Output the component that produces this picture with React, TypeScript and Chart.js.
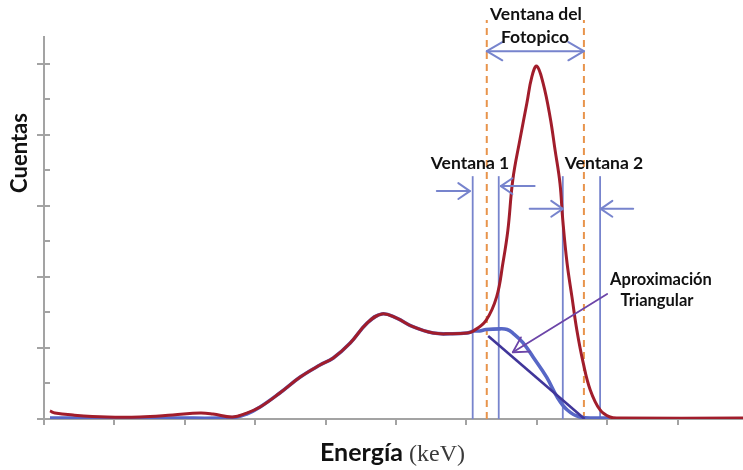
import React, { useEffect, useRef } from 'react';
import { Chart, registerables } from 'chart.js';

Chart.register(...registerables);

// ---- Data (energy in arbitrary units: 10 per axis tick; counts: 100 per major tick) ----
const redEnergy = [0.85, 1.56, 4.12, 8.95, 13.6, 18.3, 22.2, 24.0, 26.8, 28.8, 30.7, 33.5, 36.4, 39.2, 41.1, 43.5, 45.9, 48.0, 50.1, 52.4, 55.3, 57.7, 60.1, 61.0, 62.8, 64.3, 65.2, 65.9, 66.6, 67.6, 68.6, 69.3, 70.0, 70.9, 71.9, 72.6, 73.3, 73.7, 74.3, 75.0, 75.7, 76.6, 77.6, 79.0, 80.4, 81.8, 99.3];
const redCounts = [11.3, 8.4, 5.6, 2.8, 2.8, 5.6, 8.4, 7.0, 2.8, 8.4, 16.9, 36.6, 59.1, 76.0, 85.9, 107, 135, 148, 142, 130, 121, 120, 121, 124, 139, 172, 220, 266, 337, 393, 445, 482, 497, 473, 425, 379, 332, 280, 220, 172, 125, 79, 41, 12.7, 2.8, 1.4, 1.4];

const blueEnergy = [0.85, 8.95, 18.3, 26.8, 28.8, 30.7, 33.5, 36.4, 39.2, 41.1, 43.5, 45.9, 48.0, 50.1, 52.4, 55.3, 57.7, 60.1, 61.0, 61.9, 62.8, 64.8, 65.8, 66.6, 68.0, 69.5, 71.4, 72.9, 74.3, 76.1, 79.0, 80.4];
const blueCounts = [1.4, 1.4, 1.4, 2.0, 7.0, 16.9, 36.6, 59.1, 76.0, 85.9, 107, 135, 148, 142, 130, 121, 120, 121, 124, 124, 126, 127, 126, 121, 108, 87, 59, 31, 13, 2.8, 1.4, 1.4];

const triangleEnergy = [63.1, 76.8];
const triangleCounts = [117, 0];

const window1Edges = [60.9, 64.6];
const window2Edges = [73.7, 79.0];
const windowTop = 342;
const photopeakEdges = [62.9, 76.7];
const photopeakTop = 562;

// arrows: [x1, y1, x2, y2] in data units, head at (x2, y2)
const photopeakArrow = [62.9, 518, 76.7, 518];
const windowArrows = [
  [55.8, 321, 60.5, 321],
  [69.7, 328, 64.9, 328],
  [69.0, 296, 73.7, 296],
  [83.7, 296, 79.1, 296],
];
const triangleNoteArrow = [80.0, 176, 66.6, 94];

const xMax = 99.3;
const yMax = 538;
const xStep = 10;
const yStep = 100;
const yMinorStep = 50;

const AXIS = '#a3a3a3';
const RED = '#a11d2b';
const BLUE = '#5767c6';
const VLINE = '#7784cd';
const ORANGE = '#e8944c';
const TRI = '#40369a';
const NOTE = '#6c45a8';

function pts(xs: number[], ys: number[]) {
  return xs.map((x, i) => ({ x, y: ys[i] }));
}
function vline(x: number, top: number) {
  return [{ x, y: 0 }, { x, y: top }];
}

function drawArrow(ctx: CanvasRenderingContext2D, x1: number, y1: number, x2: number, y2: number, both: boolean, len: number, ang: number, color: string, width: number) {
  ctx.save();
  ctx.strokeStyle = color;
  ctx.lineWidth = width;
  ctx.lineCap = 'round';
  ctx.lineJoin = 'round';
  ctx.beginPath();
  ctx.moveTo(x1, y1);
  ctx.lineTo(x2, y2);
  ctx.stroke();
  const head = (tx: number, ty: number, fx: number, fy: number) => {
    const a = Math.atan2(fy - ty, fx - tx);
    ctx.beginPath();
    ctx.moveTo(tx + len * Math.cos(a + ang), ty + len * Math.sin(a + ang));
    ctx.lineTo(tx, ty);
    ctx.lineTo(tx + len * Math.cos(a - ang), ty + len * Math.sin(a - ang));
    ctx.stroke();
  };
  head(x2, y2, x1, y1);
  if (both) head(x1, y1, x2, y2);
  ctx.restore();
}

const annotationPlugin = {
  id: 'annotations',
  afterDatasetsDraw(chart: any) {
    const ctx: CanvasRenderingContext2D = chart.ctx;
    const xs = chart.scales.x;
    const ys = chart.scales.y;
    const area = chart.chartArea;
    ctx.save();
    ctx.strokeStyle = AXIS;
    ctx.lineWidth = 2;
    for (let v = 0; v <= yMax; v += yMinorStep) {
      const py = Math.round(ys.getPixelForValue(v));
      ctx.beginPath();
      ctx.moveTo(area.left, py);
      ctx.lineTo(area.left + 6, py);
      ctx.stroke();
    }
    ctx.restore();

    const P = (a: number[]) => [xs.getPixelForValue(a[0]), ys.getPixelForValue(a[1]), xs.getPixelForValue(a[2]), ys.getPixelForValue(a[3])];
    const pa = P(photopeakArrow);
    drawArrow(ctx, pa[0], pa[1], pa[2], pa[3], true, 18, 0.53, VLINE, 2);
    windowArrows.forEach((a) => {
      const p = P(a);
      drawArrow(ctx, p[0], p[1], p[2], p[3], false, 14, 0.6, VLINE, 2);
    });
    const na = P(triangleNoteArrow);
    drawArrow(ctx, na[0], na[1], na[2], na[3], false, 17, 0.52, NOTE, 1.8);
  },
  afterDraw(chart: any) {
    const ctx: CanvasRenderingContext2D = chart.ctx;
    ctx.save();
    ctx.fillStyle = '#111';
    ctx.textAlign = 'center';
    ctx.textBaseline = 'middle';
    ctx.font = '700 17.5px Lato';
    ctx.fillText('Ventana del', 536, 14);
    ctx.fillText('Fotopico', 535, 37);
    ctx.fillText('Ventana 1', 470, 163);
    ctx.fillText('Ventana 2', 604, 163);
    ctx.font = '700 16.5px Lato';
    ctx.fillText('Aproximación', 661, 280);
    ctx.fillText('Triangular', 657, 301);

    ctx.save();
    ctx.translate(20, 153);
    ctx.rotate(-Math.PI / 2);
    ctx.font = '700 22px Lato';
    ctx.fillText('Cuentas', 0, 0);
    ctx.restore();

    ctx.textAlign = 'left';
    ctx.textBaseline = 'alphabetic';
    ctx.font = '700 25px Lato';
    const t1 = 'Energía';
    const w1 = ctx.measureText(t1).width;
    ctx.font = '24px "Liberation Serif"';
    const t2 = '(keV)';
    const w2 = ctx.measureText(t2).width;
    const gap = 6;
    const start = 392.5 - (w1 + gap + w2) / 2;
    ctx.font = '700 25px Lato';
    ctx.fillStyle = '#111';
    ctx.fillText(t1, start, 461);
    ctx.font = '24px "Liberation Serif"';
    ctx.fillStyle = '#3a3a3a';
    ctx.fillText(t2, start + w1 + gap, 461);
    ctx.restore();
  },
};

export default function App() {
  const ref = useRef<HTMLCanvasElement>(null);
  useEffect(() => {
    document.body.style.margin = '0';
    const canvas = ref.current!;
    const line = (data: any[], color: string, width: number, order: number, extra: any = {}) => ({
      type: 'line',
      data,
      borderColor: color,
      backgroundColor: color,
      borderWidth: width,
      pointRadius: 0,
      pointHoverRadius: 0,
      fill: false,
      order,
      ...extra,
    });
    const datasets: any[] = [
      line(vline(photopeakEdges[0], photopeakTop), ORANGE, 2, 6, { borderDash: [7, 5], clip: false }),
      line(vline(photopeakEdges[1], photopeakTop), ORANGE, 2, 6, { borderDash: [7, 5], clip: false }),
      line(vline(window1Edges[0], windowTop), VLINE, 1.8, 5),
      line(vline(window1Edges[1], windowTop), VLINE, 1.8, 5),
      line(vline(window2Edges[0], windowTop), VLINE, 1.8, 5),
      line(vline(window2Edges[1], windowTop), VLINE, 1.8, 5),
      line(pts(blueEnergy, blueCounts), BLUE, 3.6, 3, { tension: 0.4 }),
      line(pts(redEnergy, redCounts), RED, 3, 2, { tension: 0.4 }),
      line(pts(triangleEnergy, triangleCounts), TRI, 2.6, 1),
    ];
    const chart = new Chart(canvas, {
      type: 'line',
      data: { datasets },
      options: {
        animation: false,
        responsive: false,
        devicePixelRatio: 1,
        layout: { padding: { top: 37, left: 0, right: 0, bottom: 0 } },
        plugins: { legend: { display: false }, tooltip: { enabled: false } },
        events: [],
        scales: {
          x: {
            type: 'linear',
            min: 0,
            max: xMax,
            ticks: { stepSize: xStep, display: false, includeBounds: false },
            grid: { drawOnChartArea: false, drawTicks: true, tickLength: 6, color: AXIS, lineWidth: 2 },
            border: { display: true, color: AXIS, width: 2 },
            afterFit: (s: any) => { s.height = 51; },
          },
          y: {
            type: 'linear',
            min: 0,
            max: yMax,
            ticks: { stepSize: yStep, display: false, includeBounds: false },
            grid: { drawOnChartArea: false, drawTicks: true, tickLength: 7, color: AXIS, lineWidth: 2 },
            border: { display: true, color: AXIS, width: 2 },
            afterFit: (s: any) => { s.width = 44; },
          },
        },
      } as any,
      plugins: [annotationPlugin],
    } as any);
    return () => chart.destroy();
  }, []);
  return <canvas ref={ref} width={743} height={470} style={{ display: 'block' }} />;
}
